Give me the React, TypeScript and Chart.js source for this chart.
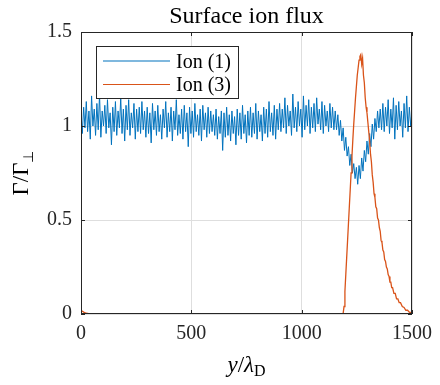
import React, { useEffect, useRef } from "react";
import { Chart, registerables } from "chart.js";

Chart.register(...registerables);

const titleText = "Surface ion flux";
const seriesLabels = ["Ion (1)", "Ion (3)"];
const seriesColors = ["#0072BD", "#D95319"];
const xTicks = [0, 500, 1000, 1500];
const yTicks = [0, 0.5, 1, 1.5];

// Ion (1): sampled every 6 units of y/lambda_D from 0 to 1500
const ion1Step = 6;
const ion1Flux = [
  1.07, 0.96, 1.10, 0.99, 1.13, 0.97, 1.08, 0.93, 1.16, 1.00,
  1.09, 0.95, 1.12, 0.98, 1.17, 0.94, 1.08, 1.00, 1.11, 0.96,
  1.14, 0.99, 1.07, 0.90, 1.10, 0.97, 1.13, 0.95, 1.08, 0.99,
  1.15, 0.96, 1.09, 0.92, 1.11, 0.98, 1.14, 0.95, 1.07, 0.99,
  1.12, 0.93, 1.09, 0.97, 1.10, 0.96, 1.13, 0.98, 1.08, 0.94,
  1.10, 0.96, 1.07, 0.91, 1.12, 0.98, 1.08, 0.95, 1.11, 0.97,
  1.06, 0.93, 1.09, 0.99, 1.13, 0.94, 1.07, 0.97, 1.10, 0.92,
  1.08, 0.98, 1.14, 0.95, 1.06, 0.96, 1.09, 0.93, 1.11, 0.97,
  1.07, 0.89, 1.10, 0.96, 1.08, 0.94, 1.12, 0.97, 1.06, 0.95,
  1.09, 0.92, 1.11, 0.98, 1.07, 0.94, 1.10, 0.96, 1.08, 0.97,
  1.06, 0.95, 1.09, 0.93, 1.05, 0.96, 1.08, 0.87, 1.07, 0.94,
  1.10, 0.95, 1.06, 0.92, 1.08, 0.96, 1.05, 0.90, 1.09, 0.95,
  1.07, 0.93, 1.11, 0.96, 1.06, 0.91, 1.08, 0.95, 1.10, 0.94,
  1.07, 0.96, 1.12, 0.93, 1.08, 0.97, 1.06, 0.92, 1.10, 0.96,
  1.09, 0.94, 1.13, 0.97, 1.07, 0.95, 1.11, 0.93, 1.09, 0.98,
  1.12, 0.97, 1.09, 0.99, 1.15, 0.96, 1.11, 1.00, 1.08, 0.95,
  1.17, 0.99, 1.10, 0.97, 1.13, 1.00, 1.09, 0.94, 1.16, 0.98,
  1.11, 1.00, 1.14, 0.96, 1.10, 0.99, 1.12, 0.97, 1.15, 1.01,
  1.09, 0.98, 1.13, 0.96, 1.11, 1.00, 1.08, 0.97, 1.12, 0.99,
  1.10, 0.98,
  1.08, 0.98, 1.06, 0.95, 1.03, 0.92, 0.99, 0.87, 0.94, 0.84,
  0.89, 0.79, 0.85, 0.75, 0.80, 0.72, 0.78, 0.69, 0.79, 0.72,
  0.83, 0.76, 0.87, 0.81, 0.92, 0.85, 0.96, 0.89, 1.01, 0.93,
  1.04, 0.97, 1.08, 0.99,
  1.09, 0.98, 1.12, 0.97, 1.10, 1.00, 1.14, 0.96, 1.09, 0.99,
  1.15, 0.93, 1.11, 0.98, 1.13, 1.00, 1.08, 0.94, 1.12, 0.99,
  1.16, 0.97, 1.10, 1.00, 1.08,
];

// Ion (3)
const ion3X = [
  0, 6, 12, 24, 40, 1180, 1188,
  1192, 1196, 1200, 1204, 1208, 1212, 1216, 1220, 1224, 1228, 1232, 1236, 1240, 1244,
  1248, 1252, 1256, 1260, 1264, 1268, 1272, 1276, 1280, 1284, 1288, 1292, 1296, 1300,
  1304, 1308, 1312, 1316, 1320, 1324, 1328, 1332, 1336, 1340, 1344, 1348, 1352, 1356,
  1360, 1364, 1368, 1372, 1376, 1380, 1384, 1388, 1392, 1396, 1400, 1404, 1408, 1412,
  1418, 1424, 1430, 1436, 1442, 1448, 1456, 1464, 1472, 1480, 1488, 1500,
];
const ion3Flux = [
  0.02, 0.015, 0.01, 0.004, 0, 0, 0.003,
  0.04, 0.12, 0.21, 0.30, 0.39, 0.48, 0.57, 0.66, 0.75, 0.84, 0.93, 1.01, 1.08, 1.15,
  1.21, 1.27, 1.31, 1.35, 1.37, 1.38, 1.33, 1.36, 1.27, 1.23, 1.15, 1.10, 1.07, 1.02,
  0.97, 0.92, 0.85, 0.81, 0.74, 0.70, 0.64, 0.62, 0.57, 0.56, 0.51, 0.50, 0.46, 0.44,
  0.39, 0.38, 0.34, 0.33, 0.29, 0.28, 0.25, 0.24, 0.21, 0.20, 0.17, 0.17, 0.14, 0.14,
  0.11, 0.11, 0.08, 0.08, 0.06, 0.06, 0.04, 0.035, 0.02, 0.02, 0.01, 0.005,
];

const SERIF = '"Liberation Serif", "Times New Roman", serif';
const AXIS_COLOR = "#262626";

const decorations = {
  id: "matlabDecorations",
  afterDraw(chart: any) {
    const ctx = chart.ctx as CanvasRenderingContext2D;
    const ca = chart.chartArea;
    const xs = chart.scales.x;
    const ys = chart.scales.y;
    ctx.save();

    // axes box
    ctx.strokeStyle = AXIS_COLOR;
    ctx.lineWidth = 1;
    ctx.strokeRect(ca.left + 0.5, ca.top + 0.5, ca.right - ca.left - 1, ca.bottom - ca.top - 1);

    // inward ticks
    const tl = 4;
    ctx.beginPath();
    xTicks.forEach((v) => {
      const px = Math.round(xs.getPixelForValue(v)) + 0.5;
      ctx.moveTo(px, ca.bottom);
      ctx.lineTo(px, ca.bottom - tl);
      ctx.moveTo(px, ca.top);
      ctx.lineTo(px, ca.top + tl);
    });
    yTicks.forEach((v) => {
      const py = Math.round(ys.getPixelForValue(v)) + 0.5;
      ctx.moveTo(ca.left, py);
      ctx.lineTo(ca.left + tl, py);
      ctx.moveTo(ca.right, py);
      ctx.lineTo(ca.right - tl, py);
    });
    ctx.stroke();

    // title
    ctx.fillStyle = "#000";
    ctx.font = `24px ${SERIF}`;
    ctx.textAlign = "center";
    ctx.textBaseline = "alphabetic";
    ctx.fillText(titleText, (ca.left + ca.right) / 2, 23);

    // x label: y/λ_D
    {
      const parts = [
        { t: "y", f: `italic 23px ${SERIF}`, dy: 0 },
        { t: "/", f: `23px ${SERIF}`, dy: 0 },
        { t: "λ", f: `italic 23px ${SERIF}`, dy: 0 },
        { t: "D", f: `16px ${SERIF}`, dy: 4 },
      ];
      let total = 0;
      const widths = parts.map((p) => {
        ctx.font = p.f;
        const w = ctx.measureText(p.t).width;
        total += w;
        return w;
      });
      let x = (ca.left + ca.right) / 2 - total / 2;
      ctx.textAlign = "left";
      parts.forEach((p, i) => {
        ctx.font = p.f;
        ctx.fillText(p.t, x, 372 + p.dy);
        x += widths[i];
      });
    }

    // y label: Γ/Γ_⊥
    {
      ctx.save();
      ctx.translate(28, (ca.top + ca.bottom) / 2);
      ctx.rotate(-Math.PI / 2);
      const parts = [
        { t: "Γ/Γ", f: `23px ${SERIF}`, dy: 0 },
        { t: "⊥", f: `14px ${SERIF}`, dy: 5 },
      ];
      let total = 0;
      const widths = parts.map((p) => {
        ctx.font = p.f;
        const w = ctx.measureText(p.t).width;
        total += w;
        return w;
      });
      let x = -total / 2;
      ctx.textAlign = "left";
      parts.forEach((p, i) => {
        ctx.font = p.f;
        ctx.fillText(p.t, x, p.dy);
        x += widths[i];
      });
      ctx.restore();
    }

    // legend
    const lx = ca.left + 15;
    const ly = ca.top + 14;
    const lw = 143;
    const lh = 53;
    ctx.fillStyle = "#fff";
    ctx.fillRect(lx, ly, lw, lh);
    ctx.strokeStyle = AXIS_COLOR;
    ctx.lineWidth = 1;
    ctx.strokeRect(lx + 0.5, ly + 0.5, lw - 1, lh - 1);
    ctx.font = `20px ${SERIF}`;
    ctx.textAlign = "left";
    ctx.textBaseline = "alphabetic";
    seriesLabels.forEach((label, i) => {
      const cy = ly + 15 + i * 23.5;
      ctx.strokeStyle = seriesColors[i];
      ctx.lineWidth = 1.2;
      ctx.beginPath();
      ctx.moveTo(lx + 7, cy);
      ctx.lineTo(lx + 74, cy);
      ctx.stroke();
      ctx.fillStyle = "#000";
      ctx.fillText(label, lx + 80, cy + 6.5);
    });

    ctx.restore();
  },
};

export default function App() {
  const canvasRef = useRef<HTMLCanvasElement | null>(null);

  useEffect(() => {
    const canvas = canvasRef.current;
    if (!canvas) return;
    const ion1Data = ion1Flux.map((v, i) => ({ x: i * ion1Step, y: v }));
    const n3 = Math.min(ion3X.length, ion3Flux.length);
    const ion3Data = ion3X.slice(0, n3).map((x, i) => ({ x, y: ion3Flux[i] }));

    const chart = new Chart(canvas, {
      type: "line",
      data: {
        datasets: [
          {
            label: seriesLabels[0],
            data: ion1Data,
            borderColor: seriesColors[0],
            backgroundColor: seriesColors[0],
            borderWidth: 1,
            pointRadius: 0,
            tension: 0,
            order: 1,
          },
          {
            label: seriesLabels[1],
            data: ion3Data,
            borderColor: seriesColors[1],
            backgroundColor: seriesColors[1],
            borderWidth: 1.3,
            pointRadius: 0,
            tension: 0,
            order: 0,
          },
        ],
      },
      options: {
        animation: false,
        responsive: false,
        devicePixelRatio: 1,
        layout: { padding: { left: 0, right: 25, top: 32, bottom: 0 } },
        plugins: {
          legend: { display: false },
          tooltip: { enabled: false },
          title: { display: false },
        },
        scales: {
          x: {
            type: "linear",
            min: 0,
            max: 1500,
            afterBuildTicks: (scale: any) => {
              scale.ticks = xTicks.map((v) => ({ value: v }));
            },
            afterFit: (scale: any) => {
              scale.height = 71;
            },
            ticks: {
              color: AXIS_COLOR,
              font: { family: SERIF, size: 20 },
              padding: 8,
              maxRotation: 0,
              callback: (v: any) => String(v),
            },
            grid: { color: "#dedede", drawTicks: false, lineWidth: 1 },
            border: { display: false },
          },
          y: {
            type: "linear",
            min: 0,
            max: 1.5,
            afterBuildTicks: (scale: any) => {
              scale.ticks = yTicks.map((v) => ({ value: v }));
            },
            afterFit: (scale: any) => {
              scale.width = 81;
            },
            ticks: {
              color: AXIS_COLOR,
              font: { family: SERIF, size: 20 },
              padding: 9,
              callback: (v: any) => String(v),
            },
            grid: { color: "#dedede", drawTicks: false, lineWidth: 1 },
            border: { display: false },
          },
        },
      },
      plugins: [decorations],
    });
    return () => chart.destroy();
  }, []);

  return (
    <div style={{ position: "fixed", left: 0, top: 0, width: 440, height: 385, background: "#fff" }}>
      <canvas ref={canvasRef} width={440} height={385} style={{ width: 440, height: 385 }} />
    </div>
  );
}
